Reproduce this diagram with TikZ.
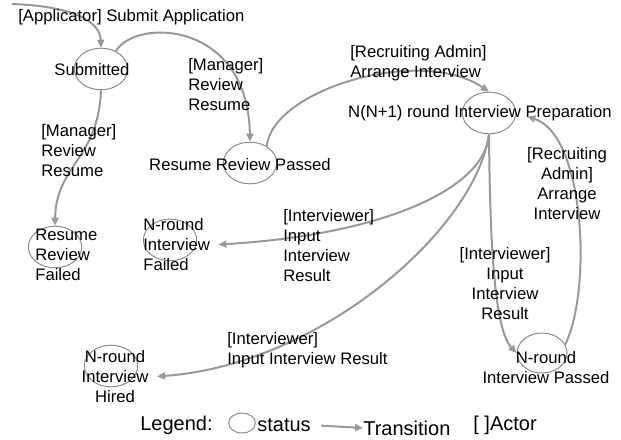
\documentclass[tikz,border=0pt]{standalone}
\usepackage{fontspec}
\setmainfont{Liberation Sans}
\usetikzlibrary{arrows.meta,shapes.geometric}
\definecolor{edgegray}{HTML}{999999}
\definecolor{ringgray}{HTML}{8C8C8C}

\begin{document}
\begin{tikzpicture}[
    x=0.6pt, y=-0.6pt,
    every node/.style={font=\fontsize{10}{12}\selectfont, inner sep=0pt},
    status/.style={ellipse, draw=ringgray, line width=0.6pt, minimum width=32pt, minimum height=25pt},
    flow/.style={draw=edgegray, line width=1.2pt, -{Triangle[length=4.8pt, width=4.2pt]}},
    legendtext/.style={font=\fontsize{12}{14}\selectfont, anchor=west},
]
\useasboundingbox (0,0) rectangle (621,439);

% Status rings
\node[status] (sub)    at (101,69)  {};
\node[status] (rrp)    at (250,163) {};
\node[status] (prep)   at (489,113) {};
\node[status] (rrf)    at (55,247)  {};
\node[status] (nif)    at (170,240) {};
\node[status] (hired)  at (111,366) {};
\node[status, minimum width=30pt, minimum height=24pt] (passed) at (542,353) {};

% Status names
\node (subT)    at (92,70)   {Submitted};
\node (rrpT)    at (240,165) {Resume Review Passed};
\node (prepT)   at (480,113) {N(N+1) round Interview Preparation};
\node[align=left, anchor=west] (rrfT) at (35,255) {Resume\\Review\\Failed};
\node[align=left, anchor=west] (nifT) at (143,245) {N-round\\Interview\\Failed};
\node[align=center] (hiredT)  at (115,377) {N-round\\Interview\\Hired};
\node[align=center] (passedT) at (546,368) {N-round\\Interview Passed};

% Transitions
\coordinate (appin) at (12,4);
\draw[flow] (appin) .. controls (70,6) and (100,20) .. (sub.north);
\draw[flow] (sub.50) .. controls (135,18) and (248,20) .. (rrp.north);
\draw[flow] (sub.south) .. controls (98,160) and (56,165) .. (rrf.north);
\draw[flow] (rrp.45) .. controls (272,90) and (420,45) .. (prep.north);
\draw[flow, shorten >=4.8pt] (prep.south) .. controls (485,190) and (380,235) .. (nifT.east);
\draw[flow, shorten >=5pt] (prep.south) .. controls (475,230) and (320,365) .. (hiredT.east);
\draw[flow] (prep.south) .. controls (490,250) and (495,330) .. (passed.west);
\draw[flow, shorten >=7pt] (passed.20) .. controls (592,290) and (585,135) .. (prep.east);

% Transition labels
\node[anchor=west] (lblApp) at (18,17) {[Applicator] Submit Application};
\node[align=left, anchor=west] (lblRev1) at (188,85) {[Manager]\\Review\\Resume};
\node[align=left, anchor=west] (lblRev2) at (41,151) {[Manager]\\Review\\Resume};
\node[align=left, anchor=west] (lblArr1) at (350,63) {[Recruiting Admin]\\Arrange Interview};
\node[align=left, anchor=west] (lblIntF) at (283,246) {[Interviewer]\\Input\\Interview\\Result};
\node[align=left, anchor=west] (lblIntH) at (227,350) {[Interviewer]\\Input Interview Result};
\node[align=center] (lblIntP) at (505,284) {[Interviewer]\\Input\\Interview\\Result};
\node[align=center] (lblArr2) at (567,184) {[Recruiting\\Admin]\\Arrange\\Interview};

% Legend
\node[legendtext] (legend) at (140,425) {Legend:};
\node[status, minimum width=16pt, minimum height=12pt] (legring) at (242,423) {};
\node[legendtext] (legstatus) at (257,425) {status};
\node[legendtext] (legtrans) at (363,428) {Transition};
\node[legendtext] (legactor) at (473,425) {[ ]Actor};
\draw[flow, shorten <=6pt] (legstatus.east) -- (legtrans.west);

\end{tikzpicture}
\end{document}
